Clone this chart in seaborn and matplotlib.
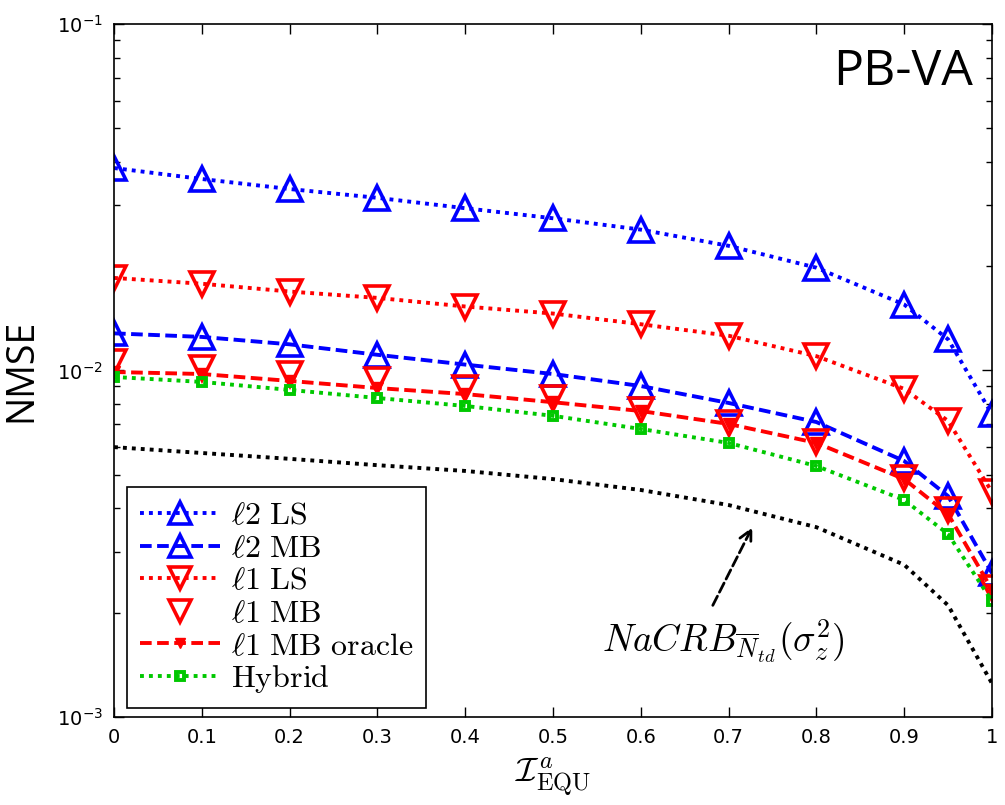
import numpy as np
import pandas as pd
import seaborn as sns
import matplotlib.pyplot as plt
from matplotlib.ticker import LogLocator, FixedLocator

# I_EQU^a values
x_vals = [0, 0.1, 0.2, 0.3, 0.4, 0.5, 0.6, 0.7, 0.8, 0.9, 0.95, 1.0]

l2_ls = [0.0384, 0.0357, 0.0334, 0.0315, 0.0294, 0.0275, 0.0255, 0.0229, 0.0198, 0.0155, 0.0123, 0.00748]
l2_mb = [0.0128, 0.0125, 0.0119, 0.0111, 0.0104, 0.00977, 0.00902, 0.00806, 0.0071, 0.00548, 0.00434, 0.00260]
l1_ls = [0.0185, 0.0178, 0.0169, 0.0162, 0.0153, 0.0146, 0.0136, 0.0126, 0.0110, 0.00885, 0.00715, 0.00446]
l1_mb = [0.0106, 0.0102, 0.00977, 0.0094, 0.0089, 0.00833, 0.00769, 0.00706, 0.00622, 0.0049, 0.00396, 0.00236]
l1_mb_oracle = [0.0099, 0.00977, 0.00933, 0.0089, 0.00855, 0.0081, 0.00764, 0.00701, 0.00618, 0.00486, 0.00385, 0.00233]
hybrid = [0.00958, 0.00927, 0.00879, 0.00833, 0.0079, 0.0074, 0.00678, 0.00618, 0.0053, 0.00423, 0.00337, 0.00216]
nacrb = [0.00601, 0.00578, 0.00556, 0.00533, 0.00513, 0.00486, 0.00452, 0.00409, 0.00353, 0.00275, 0.0021, 0.00125]

x_ticks = [0, 0.1, 0.2, 0.3, 0.4, 0.5, 0.6, 0.7, 0.8, 0.9, 1]
x_tick_labels = ['0', '0.1', '0.2', '0.3', '0.4', '0.5', '0.6', '0.7', '0.8', '0.9', '1']

sns.set_style('white')
plt.rcParams['mathtext.fontset'] = 'cm'
plt.rcParams['font.family'] = ['DejaVu Sans']
plt.rcParams['text.color'] = 'black'
plt.rcParams['axes.labelcolor'] = 'black'
plt.rcParams['xtick.color'] = 'black'
plt.rcParams['ytick.color'] = 'black'

BLUE = '#0000FF'
RED = '#FF0000'
GREEN = '#00C800'
DOT = (0, (1, 1.3))
DASH = (0, (3, 1.4))
LW = 2.8

fig = plt.figure(figsize=(10.05, 8.05), dpi=100)
ax = fig.add_axes([114 / 1005, 1 - 717 / 805, (992 - 114) / 1005, (717 - 24) / 805])

series = [
    (l2_ls, r'$\ell2\ \mathrm{LS}$', BLUE, dict(linestyle=DOT, marker='^', markersize=17,
                                               markerfacecolor='none', markeredgewidth=2.6)),
    (l2_mb, r'$\ell2\ \mathrm{MB}$', BLUE, dict(linestyle=DASH, marker='^', markersize=17,
                                               markerfacecolor='none', markeredgewidth=2.6)),
    (l1_ls, r'$\ell1\ \mathrm{LS}$', RED, dict(linestyle=DOT, marker='v', markersize=17,
                                              markerfacecolor='none', markeredgewidth=2.6)),
    (l1_mb, r'$\ell1\ \mathrm{MB}$', RED, dict(linestyle='none', marker='v', markersize=17,
                                              markerfacecolor='none', markeredgewidth=2.6)),
    (l1_mb_oracle, r'$\ell1\ \mathrm{MB\ oracle}$', RED, dict(linestyle=DASH, marker='v',
                                                             markersize=8, markeredgewidth=1)),
    (hybrid, r'$\mathrm{Hybrid}$', GREEN, dict(linestyle=DOT, marker='s', markersize=6,
                                              markerfacecolor='none', markeredgewidth=2.8)),
]

handles = []
for vals, label, color, style in series:
    df = pd.DataFrame({'x': x_vals, 'y': vals})
    sns.lineplot(data=df, x='x', y='y', ax=ax, color=color, markeredgecolor=color,
                 linewidth=LW, label=label, legend=False, **style)
    handles.append(ax.get_lines()[-1])

df_crb = pd.DataFrame({'x': x_vals, 'y': nacrb})
sns.lineplot(data=df_crb, x='x', y='y', ax=ax, color='black', linewidth=LW, linestyle=DOT, legend=False)

ax.set_yscale('log')
ax.set_ylim(1e-3, 1e-1)
ax.set_xlim(0, 1)
ax.xaxis.set_major_locator(FixedLocator(x_ticks))
ax.set_xticklabels(x_tick_labels)
ax.yaxis.set_major_locator(LogLocator(base=10, numticks=10))
ax.yaxis.set_minor_locator(LogLocator(base=10, subs=np.arange(2, 10), numticks=10))

ax.tick_params(which='both', direction='in', top=True, right=True, bottom=True, left=True,
               labelsize=14, labelfontfamily='Liberation Sans Narrow', pad=8)
ax.tick_params(which='major', length=7, width=1)
ax.tick_params(which='minor', length=4, width=1)
for s in ax.spines.values():
    s.set_color('black')
    s.set_linewidth(1.2)

ax.set_xlabel(r'$\mathcal{I}^{\,a}_{\mathrm{EQU}}$', fontsize=25, labelpad=6)
ax.set_ylabel('NMSE', fontsize=27, family='Open Sans', labelpad=12)

ax.text(0.978, 0.93, 'PB-VA', transform=ax.transAxes, ha='right', va='center',
        fontsize=36, family='Open Sans')

ax.annotate('', xy=(0.727, 0.00353), xytext=(0.682, 0.0021),
            arrowprops=dict(arrowstyle='->', color='black', lw=2, linestyle='--',
                            mutation_scale=22, shrinkA=0, shrinkB=0))
ax.text(0.556, 0.00165, r'$NaCRB_{\overline{N}_{td}}(\sigma_z^2)$', fontsize=27,
        ha='left', va='center')

leg = ax.legend(handles=handles, loc='lower left', bbox_to_anchor=(0.015, 0.013),
                borderaxespad=0, fontsize=23, handlelength=2.5, labelspacing=0.05,
                fancybox=False, framealpha=1, edgecolor='black', borderpad=0.4,
                handletextpad=0.35, markerscale=0.9)
leg.get_frame().set_linewidth(1.2)

fig.savefig('out.png', dpi=100)
